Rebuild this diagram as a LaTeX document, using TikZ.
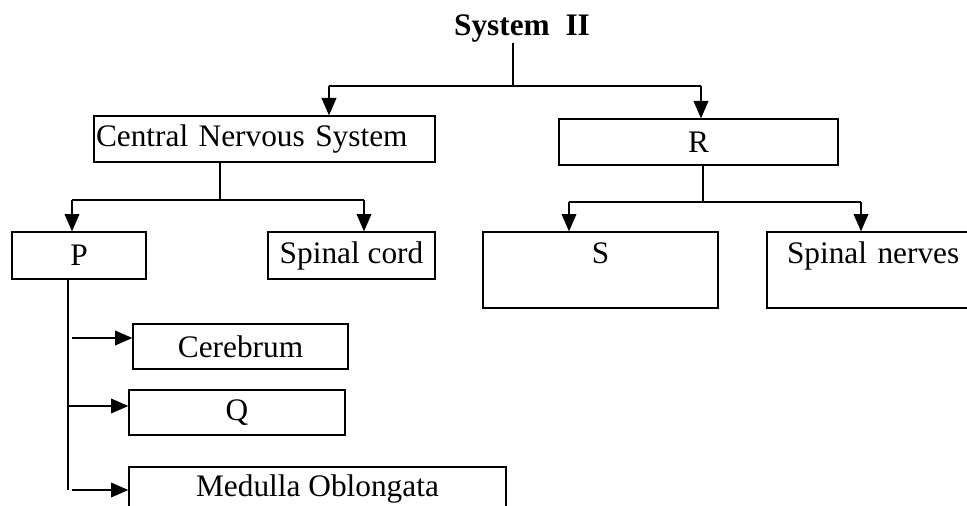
\documentclass[tikz,border=0pt]{standalone}
\usepackage{fontspec}
\setmainfont{Liberation Serif}
\usetikzlibrary{arrows.meta}
\tikzset{
  % plain box round a label
  box/.style={draw, line width=1pt, inner sep=0pt},
  % box size given in pixels of the scan
  boxsize/.style 2 args={minimum width=#1*0.75pt, minimum height=#2*0.75pt},
  % tall box with its label on top
  topbox/.style={box, inner ysep=0pt, text height=23.25pt, text depth=#1},
  % thin joining line
  link/.style={line width=0.8pt},
  % line ending in a filled head
  arr/.style={line width=1.3pt, -{Triangle[length=13pt,width=11pt]}},
}

\begin{document}
\begin{tikzpicture}[x=0.75pt, y=-0.75pt, font=\fontsize{23.5}{28}\selectfont]
\useasboundingbox (0,0) rectangle (967,506);
\clip (0,0) rectangle (967,506);

% Title
\node[inner sep=0pt, anchor=base, font=\fontsize{23.5}{28}\selectfont\bfseries] (title) at (522,36) {System\ \ II};

% Boxes
\node[box, boxsize={341}{46}, text width=252.75pt, align=left, inner xsep=1.5pt] (cns) at (264.5,139) {Central Nervous System};
\node[box, boxsize={279}{46}] (r) at (698.5,142) {R};
\node[box, boxsize={134}{47}] (p) at (79,255.5) {P};
\node[box, boxsize={167}{47}] (cord) at (351.5,255.5) {Spinal cord};
\node[topbox=33.75pt, boxsize={235}{76}] (s) at (600.5,270) {S};
\node[topbox=33.75pt, boxsize={233}{76}, text width=144.75pt, align=left, inner xsep=15pt] (nerves) at (883.5,270) {Spinal nerves};
\node[box, boxsize={215}{45}] (cer) at (240.5,346.5) {Cerebrum};
\node[box, boxsize={216}{45}] (q) at (237,412.5) {Q};
\node[box, boxsize={377}{45}] (med) at (317.5,489.5) {Medulla Oblongata};

% System II to its two parts
\coordinate (top) at (513,86);
\coordinate (toL) at (329,86);
\coordinate (toR) at (701,86);
\draw[link] (title.south -| top) -- (top);
\draw[link] (toL) -- (toR);
\draw[arr] (toL) -- (toL |- cns.north);
\draw[arr] (toR) -- (toR |- r.north);

% Central Nervous System
\coordinate (cnsj) at (220,200);
\coordinate (toP) at (72,200);
\coordinate (toCord) at (364,200);
\draw[link] (cns.south -| cnsj) -- (cnsj);
\draw[link] (toP) -- (toCord);
\draw[arr] (toP) -- (toP |- p.north);
\draw[arr] (toCord) -- (toCord |- cord.north);

% R
\coordinate (rj) at (703,202);
\coordinate (toS) at (569,202);
\coordinate (toNerves) at (861,202);
\draw[link] (r.south -| rj) -- (rj);
\draw[link] (toS) -- (toNerves);
\draw[arr] (toS) -- (toS |- s.north);
\draw[arr] (toNerves) -- (toNerves |- nerves.north);

% P
\coordinate (pend) at (68,490);
\coordinate (toCer) at (72,338);
\coordinate (toQ) at (68,406);
\coordinate (toMed) at (72,490);
\draw[link, line width=1pt] (p.south -| pend) -- (pend);
\draw[arr] (toCer) -- (toCer -| cer.west);
\draw[arr] (toQ) -- (toQ -| q.west);
\draw[arr] (toMed) -- (toMed -| med.west);

\end{tikzpicture}
\end{document}
